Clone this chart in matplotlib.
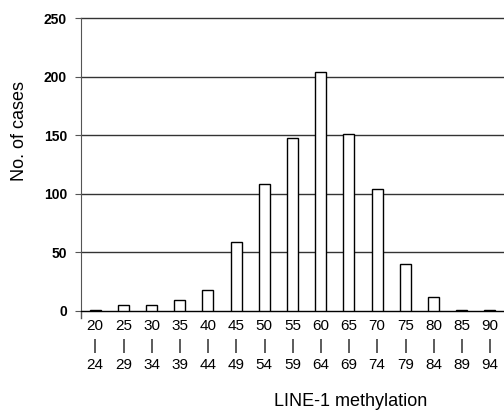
import matplotlib
matplotlib.use('Agg')
import matplotlib.pyplot as plt

plt.rcParams['font.family'] = ['Liberation Sans', 'DejaVu Sans']

# LINE-1 methylation ranges and the number of cases in each
bin_starts = [20, 25, 30, 35, 40, 45, 50, 55, 60, 65, 70, 75, 80, 85, 90]
bin_ends = [24, 29, 34, 39, 44, 49, 54, 59, 64, 69, 74, 79, 84, 89, 94]
cases = [1, 5, 5, 9, 18, 59, 108, 148, 204, 151, 104, 40, 12, 1, 1]

labels = ['%d\n|\n%d' % (a, b) for a, b in zip(bin_starts, bin_ends)]
x = list(range(len(cases)))

fig = plt.figure(figsize=(5.04, 4.13), dpi=100)
ax = fig.add_axes([81 / 504, 102 / 413, 423 / 504, 293 / 413])

ax.bar(x, cases, width=0.39, color='white', edgecolor='black', linewidth=1, zorder=3)

ax.set_xlim(-0.5, 14.5)
ax.set_ylim(0, 250)
ax.set_yticks([0, 50, 100, 150, 200, 250])
ax.set_xticks(x)
ax.set_xticklabels(labels, fontsize=11, linespacing=1.5)

ax.yaxis.grid(True, color='#333333', linewidth=1)
for gl in ax.get_ygridlines():
    gl.set_clip_on(False)

ax.tick_params(axis='y', length=4, color='#555555', pad=6, labelsize=10)
for t in ax.get_yticklabels():
    t.set_fontweight('bold')
ax.tick_params(axis='x', length=0, pad=6)

for s in ['top', 'right']:
    ax.spines[s].set_visible(False)
ax.spines['left'].set_color('#555555')
ax.spines['bottom'].set_color('black')
# left axis line runs a little below zero
ax.plot([-0.5, -0.5], [0, -6], color='#555555', linewidth=1, clip_on=False)

ax.set_ylabel('No. of cases', fontsize=13)
ax.yaxis.set_label_coords(-0.125, 0.614)
ax.set_xlabel('LINE-1 methylation', fontsize=13)
ax.xaxis.set_label_coords(0.637, -0.28)

fig.savefig('out.png', dpi=100)
